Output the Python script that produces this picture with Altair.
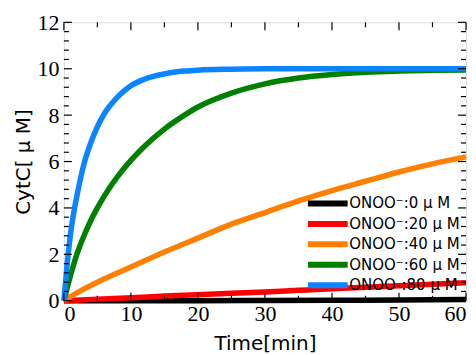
import altair as alt
import pandas as pd

# ---- data ----
labels = ["ONOO⁻:0 μ M", "ONOO⁻:20 μ M", "ONOO⁻:40 μ M", "ONOO⁻:60 μ M", "ONOO-:80 μ M"]
colors = ["#000000", "#ff0000", "#ff8000", "#008000", "#0a84ff"]

t_black = [0, 10, 20, 30, 40, 50, 60]
v_black = [0.0, 0.0, 0.0, 0.01, 0.02, 0.03, 0.05]

t_red = [0, 5, 10, 15, 20, 25, 30, 35, 40, 45, 50, 55, 60]
v_red = [0.0, 0.07, 0.13, 0.2, 0.26, 0.32, 0.38, 0.45, 0.52, 0.58, 0.65, 0.71, 0.78]

t_orange = [0, 1, 2, 5, 10, 15, 20, 25, 30, 35, 40, 45, 50, 55, 60]
v_orange = [0.0, 0.18, 0.35, 0.8, 1.45, 2.1, 2.7, 3.3, 3.8, 4.3, 4.75, 5.15, 5.55, 5.9, 6.2]

t_green = [0, 1, 2, 3, 4, 5, 6, 8, 10, 12, 15, 18, 20, 25, 30, 35, 40, 45, 50, 55, 60]
v_green = [0.0, 1.1, 2.05, 2.8, 3.45, 4.0, 4.5, 5.35, 6.05, 6.65, 7.4, 8.0, 8.35, 8.95, 9.35, 9.6,
           9.75, 9.85, 9.9, 9.93, 9.95]

t_blue = [0, 0.5, 1, 1.6, 2, 3, 4, 5, 6, 7, 8, 9, 10, 12, 15, 18, 20, 25, 30, 40, 50, 60]
v_blue = [0.0, 1.6, 2.9, 4.0, 4.6, 5.9, 6.8, 7.5, 8.05, 8.45, 8.78, 9.05, 9.27, 9.55, 9.78, 9.9,
          9.94, 9.98, 10.0, 10.0, 10.0, 10.0]

x_major = [0, 10, 20, 30, 40, 50, 60]
x_minor = [5, 15, 25, 35, 45, 55]
y_major = [0, 2, 4, 6, 8, 10, 12]
y_minor = [0.4, 0.8, 1.2, 1.6, 2.4, 2.8, 3.2, 3.6, 4.4, 4.8, 5.2, 5.6, 6.4, 6.8, 7.2, 7.6,
           8.4, 8.8, 9.2, 9.6, 10.4, 10.8, 11.2, 11.6]

series = [(t_black, v_black), (t_red, v_red), (t_orange, v_orange), (t_green, v_green), (t_blue, v_blue)]
rows = []
for lab, (ts, vs) in zip(labels, series):
    for t, v in zip(ts, vs):
        rows.append({"t": t, "v": v, "s": lab})
df = pd.DataFrame(rows)

SERIF = "Liberation Serif"
SANS = "DejaVu Sans"

W, H = 403, 279
xs = alt.Scale(domain=[0, 60], nice=False, zero=False)
ys = alt.Scale(domain=[0, 12], nice=False, zero=False)

x_axis = alt.Axis(values=x_major, ticks=False, domain=False, grid=False,
                  labelFont=SERIF, labelFontSize=22, labelColor="black",
                  labelPadding=3, titleFont=SANS, titleFontSize=20,
                  titleFontWeight="normal", titleColor="black", titlePadding=9)
y_axis = alt.Axis(values=y_major, ticks=False, domain=False, grid=False,
                  labelFont=SERIF, labelFontSize=22, labelColor="black",
                  labelPadding=5, titleFont=SANS, titleFontSize=20,
                  titleFontWeight="normal", titleColor="black", titlePadding=3)
X_TITLE = "Time[min]"
Y_TITLE = "CytC[ μ M]"

lines = alt.Chart(df).mark_line(strokeWidth=5.5, clip=False, interpolate="monotone").encode(
    x=alt.X("t:Q", scale=xs, title=X_TITLE, axis=x_axis),
    y=alt.Y("v:Q", scale=ys, title=Y_TITLE, axis=y_axis),
    color=alt.Color("s:N", scale=alt.Scale(domain=labels, range=colors),
                    legend=alt.Legend(orient="none", legendX=257, legendY=174, title=None,
                                      symbolType="M-6,0H6", symbolSize=44, symbolStrokeWidth=6,
                                      labelFont=SANS, labelFontSize=15,
                                      labelColor="black", labelOffset=14, rowPadding=-4.5,
                                      padding=0)),
)

def xticks(vals, y0, y1):
    return alt.Chart(pd.DataFrame({"t": vals})).mark_rule(color="black", strokeWidth=1.2).encode(
        x=alt.X("t:Q", scale=xs, title=X_TITLE, axis=x_axis), y=alt.value(y0), y2=alt.value(y1))

def yticks(vals, x0, x1):
    return alt.Chart(pd.DataFrame({"v": vals})).mark_rule(color="black", strokeWidth=1.2).encode(
        y=alt.Y("v:Q", scale=ys, title=Y_TITLE, axis=y_axis), x=alt.value(x0), x2=alt.value(x1))

ticks = [
    xticks(x_major, H, H - 8), xticks(x_minor, H, H - 5),
    xticks(x_major, 0, 8), xticks(x_minor, 0, 5),
    yticks(y_major, 0, 8), yticks(y_minor, 0, 5),
    yticks(y_major, W, W - 8), yticks(y_minor, W, W - 5),
]

chart = alt.layer(lines, *ticks).properties(
    width=W, height=H,
    autosize=alt.AutoSizeParams(type="none"),
    padding={"left": 56, "top": 14, "right": 2, "bottom": 53},
).configure_view(stroke="black", strokeWidth=1.5).configure(background="white")

chart.save("out.html", embed_options={"renderer": "svg", "actions": False})
